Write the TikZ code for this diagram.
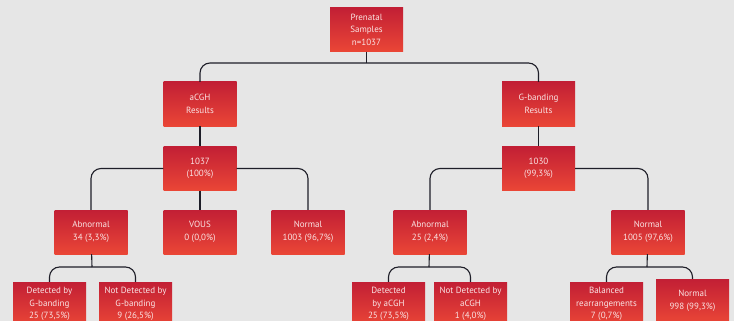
\documentclass[tikz,border=0pt]{standalone}
\usepackage{fontspec}
\setmainfont{PT Sans}
\usepackage{tikz}
\definecolor{boxtop}{HTML}{C21F35}
\definecolor{boxbot}{HTML}{EA4636}
\definecolor{boxtext}{HTML}{FAE4E4}
\definecolor{bg}{HTML}{E6E6E6}
\definecolor{linecol}{HTML}{1E1E28}

\begin{document}
\begin{tikzpicture}[
        x=1pt, y=-1pt,
        box/.style={top color=boxtop, bottom color=boxbot, text=boxtext,
          minimum width=73pt, minimum height=44pt, inner sep=0pt,
          align=center, font=\fontsize{9}{12.5}\selectfont},
        link/.style={draw=linecol, line width=1.1pt, rounded corners=10pt}
      ]
      \useasboundingbox (0,0) rectangle (734,321);
      \fill[bg] (0,0) rectangle (734,321);
      \clip (0,0) rectangle (734,321);
      % top
      \node (root) [box] at (366.5,29.5) {Prenatal\\Samples\\n=1037};
      \node (a) [box] at (200,104) {aCGH\\Results};
      \node (g) [box] at (538.5,104) {G-banding\\Results};
      \node (a1) [box] at (200,168.5) {1037\\(100\%)};
      \node (g1) [box] at (538.5,168.5) {1030\\(99,3\%)};
      % aCGH branch
      \node (a10) [box] at (91,232) {Abnormal\\34 (3,3\%)};
      \node (a11) [box] at (200,232) {VOUS\\0 (0,0\%)};
      \node (a12) [box] at (308,232) {Normal\\1003 (96,7\%)};
      \node (a100) [box] at (49.5,304) {Detected by\\G-banding\\25 (73,5\%)};
      \node (a101) [box] at (135.5,304) {Not Detected by\\G-banding\\9 (26,5\%)};
      % G-banding branch
      \node (g10) [box] at (430,232) {Abnormal\\25 (2,4\%)};
      \node (g11) [box] at (648,232) {Normal\\1005 (97,6\%)};
      \node (g100) [box] at (388.5,304) {Detected\\by aCGH\\25 (73,5\%)};
      \node (g101) [box] at (470.5,304) {Not Detected by\\aCGH\\1 (4,0\%)};
      \node (g110) [box] at (606.5,304) {Balanced\\rearrangements\\7 (0,7\%)};
      \node (g111) [box] at (692.5,301) {Normal\\998 (99,3\%)};
      % connectors
      \coordinate (j0) at (366.5,63);
      \coordinate (j1) at (92,267);
      \coordinate (j2) at (429,267);
      \coordinate (j3) at (647,267);
      \draw[link] (root) -- (j0);
      \draw[link] (a.north) |- (j0) -| (g.north);
      \draw[link] (a) -- (a1);
      \draw[link] (g) -- (g1);
      \draw[link] (a1.west) -| (a10.north);
      \draw[link] (a1.east) -| (a12.north);
      \draw[link] (a1) -- (a11);
      \draw[link] (g1.west) -| (g10.north);
      \draw[link] (g1.east) -| (g11.north);
      \draw[link] (a10) -- (j1);
      \draw[link] (a100.north) |- (j1) -| (a101.north);
      \draw[link] (g10) -- (j2);
      \draw[link] (g100.north) |- (j2) -| (g101.north);
      \draw[link] (g11) -- (j3);
      \draw[link] (g110.north) |- (j3) -| (g111.north);
    \end{tikzpicture}
\end{document}
